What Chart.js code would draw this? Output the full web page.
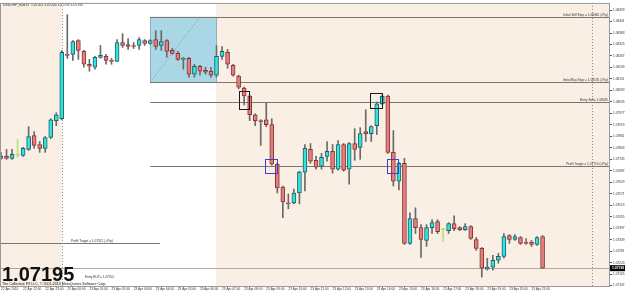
<!DOCTYPE html>
<html>
<head>
<meta charset="utf-8">
<script src="https://cdn.jsdelivr.net/npm/chart.js@4.4.0/dist/chart.umd.min.js"></script>
<style>
  html, body { margin: 0; padding: 0; background: #fff; }
  canvas { display: block; }
</style>
</head>
<body>
<canvas id="chart" width="625" height="291"></canvas>
<script>
// USDCHF M15, 22-23 Apr 2010, one entry per bar
const open = [1.07750,1.07760,1.07750,1.07765,1.07765,1.07795,1.07865,1.07820,1.07800,1.07855,
  1.07940,1.07950,1.08275,1.08275,1.08345,1.08290,1.08225,1.08210,1.08260,1.08265,
  1.08245,1.08240,1.08335,1.08325,1.08320,1.08320,1.08345,1.08330,1.08350,1.08320,
  1.08345,1.08295,1.08280,1.08250,1.08255,1.08175,1.08215,1.08195,1.08190,1.08170,
  1.08265,1.08285,1.08220,1.08165,1.08105,1.08065,1.07970,1.07940,1.07945,1.07920,
  1.07720,1.07605,1.07525,1.07525,1.07575,1.07680,1.07795,1.07740,1.07710,1.07760,
  1.07785,1.07695,1.07820,1.07695,1.07825,1.07805,1.07885,1.07875,1.07915,1.08025,
  1.08065,1.07780,1.07635,1.07725,1.07320,1.07445,1.07400,1.07335,1.07400,1.07430,
  1.07390,1.07385,1.07420,1.07400,1.07390,1.07405,1.07340,1.07295,1.07190,1.07200,
  1.07235,1.07255,1.07360,1.07340,1.07350,1.07325,1.07325,1.07315,1.07355];
const high = [1.07780,1.07795,1.07795,1.07845,1.07805,1.07910,1.07885,1.07835,1.07860,1.07950,
  1.07980,1.08295,1.08475,1.08345,1.08350,1.08295,1.08250,1.08265,1.08320,1.08275,
  1.08255,1.08350,1.08380,1.08355,1.08335,1.08360,1.08350,1.08350,1.08395,1.08395,
  1.08350,1.08305,1.08290,1.08260,1.08260,1.08225,1.08220,1.08210,1.08210,1.08320,
  1.08315,1.08300,1.08225,1.08170,1.08110,1.08070,1.07975,1.07945,1.08030,1.07950,
  1.07725,1.07610,1.07570,1.07595,1.07685,1.07820,1.07825,1.07760,1.07775,1.07835,
  1.07820,1.07840,1.07825,1.07830,1.07900,1.07905,1.07995,1.07915,1.08035,1.08070,
  1.08070,1.07890,1.07730,1.07750,1.07475,1.07500,1.07415,1.07415,1.07440,1.07440,
  1.07395,1.07425,1.07460,1.07405,1.07420,1.07410,1.07350,1.07300,1.07245,1.07260,
  1.07270,1.07370,1.07365,1.07365,1.07355,1.07345,1.07335,1.07355,1.07360];
const low = [1.07745,1.07745,1.07745,1.07755,1.07760,1.07790,1.07800,1.07780,1.07780,1.07850,
  1.07915,1.07945,1.08255,1.08245,1.08250,1.08210,1.08190,1.08200,1.08255,1.08225,
  1.08225,1.08240,1.08310,1.08300,1.08305,1.08300,1.08320,1.08325,1.08300,1.08295,
  1.08260,1.08275,1.08245,1.08200,1.08160,1.08160,1.08170,1.08175,1.08160,1.08160,
  1.08250,1.08205,1.08165,1.08100,1.08020,1.07940,1.07915,1.07815,1.07910,1.07715,
  1.07575,1.07450,1.07495,1.07520,1.07520,1.07585,1.07725,1.07695,1.07695,1.07735,
  1.07675,1.07690,1.07685,1.07620,1.07740,1.07745,1.07835,1.07835,1.07870,1.08020,
  1.07775,1.07610,1.07590,1.07315,1.07315,1.07370,1.07250,1.07305,1.07370,1.07370,
  1.07330,1.07370,1.07385,1.07385,1.07385,1.07340,1.07285,1.07150,1.07185,1.07185,
  1.07220,1.07245,1.07320,1.07335,1.07315,1.07315,1.07305,1.07310,1.07195];
const close = [1.07760,1.07750,1.07770,1.07765,1.07800,1.07860,1.07815,1.07800,1.07855,1.07945,
  1.07970,1.08285,1.08270,1.08340,1.08295,1.08225,1.08215,1.08260,1.08270,1.08245,
  1.08240,1.08335,1.08320,1.08315,1.08315,1.08350,1.08330,1.08345,1.08315,1.08340,
  1.08290,1.08280,1.08250,1.08255,1.08175,1.08215,1.08190,1.08185,1.08170,1.08265,
  1.08290,1.08225,1.08170,1.08110,1.08065,1.07970,1.07940,1.07935,1.07920,1.07720,
  1.07600,1.07530,1.07520,1.07575,1.07680,1.07800,1.07735,1.07705,1.07755,1.07785,
  1.07695,1.07820,1.07690,1.07825,1.07795,1.07875,1.07875,1.07910,1.08025,1.08065,
  1.07780,1.07635,1.07725,1.07320,1.07445,1.07400,1.07340,1.07400,1.07425,1.07380,
  1.07390,1.07420,1.07395,1.07390,1.07405,1.07345,1.07295,1.07195,1.07200,1.07235,
  1.07255,1.07355,1.07340,1.07355,1.07320,1.07320,1.07315,1.07350,1.07195];

// time axis: one label every 4 bars
const timeTicks = [0,4,8,12,16,20,24,28,32,36,40,44,48,52,56,60,64,68,72,76,80,84,88,92,96];
const timeLabels = ["22 Apr 2010","22 Apr 22:00","22 Apr 23:00","23 Apr 00:00","23 Apr 01:00",
  "23 Apr 02:00","23 Apr 03:00","23 Apr 04:00","23 Apr 05:00","23 Apr 06:00","23 Apr 07:00",
  "23 Apr 08:00","23 Apr 09:00","23 Apr 10:00","23 Apr 11:00","23 Apr 12:00","23 Apr 13:00",
  "23 Apr 14:00","23 Apr 15:00","23 Apr 16:00","23 Apr 17:00","23 Apr 18:00","23 Apr 19:00",
  "23 Apr 20:00","23 Apr 21:00"];

// price axis labels
const priceTicks = [1.07107,1.07165,1.07223,1.07281,1.07339,1.07397,1.07455,1.07513,1.07571,
  1.07629,1.07687,1.07745,1.07803,1.07861,1.07919,1.07977,1.08035,1.08093,1.08151,1.08209,
  1.08267,1.08325,1.08383,1.08441,1.08499];

// horizontal levels drawn on the chart
const levelPrice = [1.08465, 1.08135, 1.08035, 1.07710, 1.07320];
const levelFrom  = [27, 27, 27, 27, -0.2];
const levelTo    = [110.2, 110.2, 110.2, 110.2, 28.8];
const levelText  = ["Initial Sell Stop = 1.08465 (-Pip)", "Initial Buy Stop = 1.08135 (-Pip)",
  "Entry Sell= 1.08035", "Profit Target = 1.07710 (+Pip)", "Profit Target = 1.07321 (+Pip)"];

const lastPrice = 1.07195;
const sessionBand = [11, 38.9];      // white zone between the session markers
const sessionLines = [11, 107];
// rectangle + trend line (bar index / price)
const zoneBox = {from: 27, to: 38.9, top: 1.08465, bottom: 1.08135};
const zoneDiag = [[27, 1.08135], [36, 1.08465]];
// marker squares: [fromBar, toBar, topPrice, bottomPrice]
const blackBoxes = [[43, 44.9, 1.08090, 1.08000], [66.8, 69, 1.08080, 1.08005]];
const blueBoxes  = [[47.8, 50, 1.07745, 1.07675], [69.9, 71.9, 1.07745, 1.07675]];

const bars = open.map((o, i) => i);
const up = bars.map(i => close[i] > open[i]);
const flat = bars.map(i => close[i] === open[i]);

const bodyFill = bars.map(i => flat[i] ? '#b8e07a' : (up[i] ? '#2fe3e3' : '#e27f7f'));
const bodyLine = bars.map(i => flat[i] ? '#b8e07a' : (up[i] ? '#235f5f' : '#8a3434'));
const wickColor = bars.map(i => flat[i] ? '#b8e07a' : '#6a6a6a');

const mtPlugin = {
  id: 'mtDecor',
  beforeDatasetsDraw(chart) {
    const {ctx, chartArea: a, scales: {x, y}} = chart;
    ctx.save();
    ctx.fillStyle = '#faefe4';
    ctx.fillRect(a.left, a.top, a.width, a.height);
    const s0 = x.getPixelForValue(sessionBand[0]), s1 = x.getPixelForValue(sessionBand[1]);
    ctx.fillStyle = '#ffffff';
    ctx.fillRect(s0, a.top, s1 - s0, a.height);

    // blue zone
    const bx0 = x.getPixelForValue(zoneBox.from), bx1 = x.getPixelForValue(zoneBox.to);
    const by0 = y.getPixelForValue(zoneBox.top), by1 = y.getPixelForValue(zoneBox.bottom);
    ctx.fillStyle = '#aad7e6';
    ctx.fillRect(bx0, by0, bx1 - bx0, by1 - by0);
    ctx.strokeStyle = '#8fb0bc';
    ctx.lineWidth = 1;
    ctx.strokeRect(Math.round(bx0) + 0.5, Math.round(by0) + 0.5, Math.round(bx1 - bx0), Math.round(by1 - by0));
    ctx.setLineDash([1, 2]);
    ctx.strokeStyle = '#8a8a9a';
    ctx.beginPath();
    ctx.moveTo(x.getPixelForValue(zoneDiag[0][0]), y.getPixelForValue(zoneDiag[0][1]));
    ctx.lineTo(x.getPixelForValue(zoneDiag[1][0]), y.getPixelForValue(zoneDiag[1][1]));
    ctx.stroke();

    // session separators
    ctx.strokeStyle = '#8a8a8a';
    sessionLines.forEach(v => {
      const px = Math.round(x.getPixelForValue(v)) + 0.5;
      ctx.beginPath(); ctx.moveTo(px, a.top); ctx.lineTo(px, a.bottom); ctx.stroke();
    });
    ctx.setLineDash([]);

    // levels
    ctx.strokeStyle = '#77776a';
    levelPrice.forEach((p, k) => {
      const py = Math.round(y.getPixelForValue(p)) + 0.5;
      ctx.beginPath();
      ctx.moveTo(Math.max(a.left, x.getPixelForValue(levelFrom[k])), py);
      ctx.lineTo(Math.min(a.right, x.getPixelForValue(levelTo[k])), py);
      ctx.stroke();
    });
    // bid line
    ctx.strokeStyle = '#b0aaa0';
    const ly = Math.round(y.getPixelForValue(lastPrice)) + 0.5;
    ctx.beginPath(); ctx.moveTo(a.left, ly); ctx.lineTo(a.right, ly); ctx.stroke();
    ctx.restore();
  },
  afterDatasetsDraw(chart) {
    const {ctx, chartArea: a, scales: {x, y}} = chart;
    ctx.save();
    const box = (b, color) => {
      const x0 = Math.round(x.getPixelForValue(b[0])) + 0.5, x1 = Math.round(x.getPixelForValue(b[1])) + 0.5;
      const y0 = Math.round(y.getPixelForValue(b[2])) + 0.5, y1 = Math.round(y.getPixelForValue(b[3])) + 0.5;
      ctx.strokeStyle = color; ctx.lineWidth = 1;
      ctx.strokeRect(x0, y0, x1 - x0, y1 - y0);
    };
    blackBoxes.forEach(b => box(b, '#1a1a1a'));
    blueBoxes.forEach(b => box(b, '#3d3dd6'));

    // level captions
    ctx.fillStyle = '#333';
    ctx.font = '3.2px "Liberation Sans", Arial, sans-serif';
    ctx.textBaseline = 'bottom';
    levelPrice.forEach((p, k) => {
      const py = y.getPixelForValue(p) - 0.5;
      if (levelTo[k] > 100) {
        ctx.textAlign = 'right';
        ctx.fillText(levelText[k], a.right - 2, py);
      } else {
        ctx.textAlign = 'left';
        ctx.fillText(levelText[k], 71, py);
      }
    });
    ctx.textAlign = 'left';
    ctx.fillText('Entry BUY= 1.07150', 85, 279);

    // title
    ctx.font = '3.4px "Liberation Sans", Arial, sans-serif';
    ctx.textBaseline = 'top';
    ctx.fillStyle = '#222';
    ctx.fillText('USDCHF_fx,M15  1.07202 1.07205 1.07195 1.07195', 3, 3);

    // big price + copyright
    ctx.textBaseline = 'alphabetic';
    ctx.fillStyle = '#111';
    ctx.font = 'bold 20px "Liberation Sans", Arial, sans-serif';
    ctx.fillText(lastPrice.toFixed(5), 2, 281);
    ctx.font = '3.6px "Liberation Sans", Arial, sans-serif';
    ctx.fillText('The Collective FX LLC, \u00a9 2001-2010 MetaQuotes Software Corp.', 2, 285);

    // chart frame
    ctx.strokeStyle = '#9a9a9a';
    ctx.strokeRect(a.left + 0.5, a.top + 0.5, a.width - 1, a.height);

    // bid tag on the price axis
    const ty = y.getPixelForValue(lastPrice);
    ctx.fillStyle = '#000';
    ctx.fillRect(a.right, ty - 3, 15, 6);
    ctx.fillStyle = '#fff';
    ctx.font = 'bold 3.4px "Liberation Sans", Arial, sans-serif';
    ctx.textBaseline = 'middle';
    ctx.fillText(lastPrice.toFixed(5), a.right + 2, ty);
    ctx.restore();
  }
};

new Chart(document.getElementById('chart'), {
  type: 'bar',
  data: {
    datasets: [
      {
        label: 'body',
        data: bars.map(i => ({x: i, y: [open[i], close[i]]})),
        backgroundColor: bodyFill,
        borderColor: bodyLine,
        borderWidth: 1,
        borderSkipped: false,
        barThickness: 4,
        minBarLength: 1,
        grouped: false,
        order: 1
      },
      {
        label: 'wick',
        data: bars.map(i => ({x: i, y: [low[i], high[i]]})),
        backgroundColor: wickColor,
        borderWidth: 0,
        barThickness: 1,
        minBarLength: 1,
        grouped: false,
        order: 2
      }
    ]
  },
  options: {
    responsive: false,
    animation: false,
    layout: { padding: 0 },
    plugins: { legend: { display: false }, tooltip: { enabled: false } },
    scales: {
      x: {
        type: 'linear',
        min: -0.18,
        max: 110.2,
        offset: false,
        afterBuildTicks: s => { s.ticks = timeTicks.map(v => ({value: v})); },
        afterFit: s => { s.height = 5; },
        grid: { drawOnChartArea: false, drawTicks: true, tickLength: 1, color: '#777', offset: false },
        border: { display: false },
        ticks: {
          autoSkip: false, maxRotation: 0, padding: 0, align: 'start',
          color: '#333', font: { size: 3.2, family: '"Liberation Sans", Arial' },
          callback: (v, idx) => timeLabels[idx]
        }
      },
      y: {
        position: 'right',
        min: 1.07105,
        max: 1.08535,
        afterBuildTicks: s => { s.ticks = priceTicks.map(v => ({value: v})); },
        afterFit: s => { s.width = 15; },
        grid: { drawOnChartArea: false, drawTicks: true, tickLength: 2, color: '#555' },
        border: { display: false },
        ticks: {
          padding: 1, color: '#333', font: { size: 3.2, family: '"Liberation Sans", Arial' },
          callback: v => v.toFixed(5)
        }
      }
    }
  },
  plugins: [mtPlugin]
});
</script>
</body>
</html>
